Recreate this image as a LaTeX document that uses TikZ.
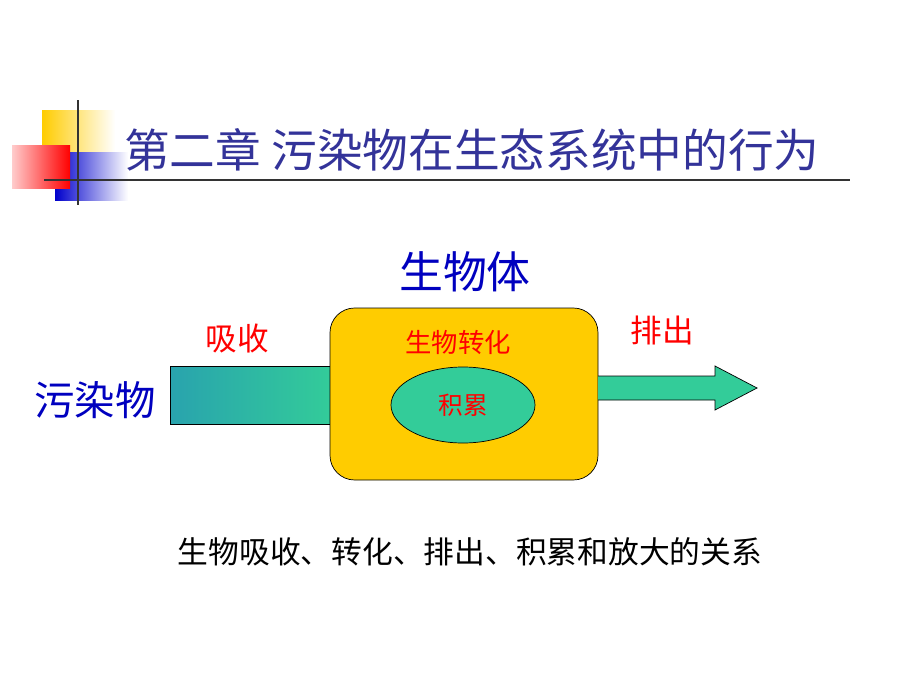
\documentclass[tikz,border=0pt]{standalone}
\usepackage{fontspec}
\setmainfont{Noto Sans CJK SC}
\usetikzlibrary{shapes.geometric}
\definecolor{titleblue}{RGB}{51,51,153}
\definecolor{gold}{RGB}{255,204,0}
\definecolor{sea}{RGB}{51,204,153}
\begin{document}
\begin{tikzpicture}[x=0.02cm,y=-0.02cm,
  lbl/.style={font=\fontsize{18}{20}\selectfont,text=red},
  bluelbl/.style={font=\fontsize{23}{26}\selectfont,text=blue!75!black}]
\useasboundingbox (0,0) rectangle (920,690);
% decoration
\fill[left color=gold,right color=white] (42,110) rectangle (115,152);
\fill[left color=blue!80!black,right color=white] (55,152) rectangle (128,200);
\fill[left color=red!20,right color=red] (12,145) rectangle (70,188);
\draw[line width=1.2pt,black!80] (78,100) -- (78,205);
\draw[line width=1.2pt,black!80] (44,180) -- (850,180);
\node[font=\fontsize{26}{30}\selectfont,text=titleblue,anchor=west] (title) at (118,150) {第二章 污染物在生态系统中的行为};
% arrows and body
\fill[left color=sea!80!blue,right color=sea] (170,366) rectangle (332,424);
\draw (332,366) -- (170,366) -- (170,424) -- (332,424);
\node[draw,rounded corners=14pt,fill=gold,minimum width=268*0.02cm,minimum height=172*0.02cm] (body) at (464,394) {};
\draw[fill=sea] (598,376) -- (715,376) -- (715,366) -- (757,388) -- (715,410) -- (715,400) -- (598,400);
\node[ellipse,draw,fill=sea,minimum width=144*0.02cm,minimum height=76*0.02cm] (acc) at (463,405) {};
\node[lbl,font=\fontsize{14}{16}\selectfont] at (acc) {积累};
\node[lbl,font=\fontsize{15}{17}\selectfont] (trans) at (458,342) {生物转化};
\node[bluelbl,font=\fontsize{25}{28}\selectfont] (org) at (465,272) {生物体};
\node[bluelbl] (pol) at (95,400) {污染物};
\node[lbl] (abs) at (237,338) {吸收};
\node[lbl] (out) at (662,330) {排出};
\node[font=\fontsize{17.5}{20}\selectfont] (cap) at (470,552) {生物吸收、转化、排出、积累和放大的关系};
\end{tikzpicture}
\end{document}
